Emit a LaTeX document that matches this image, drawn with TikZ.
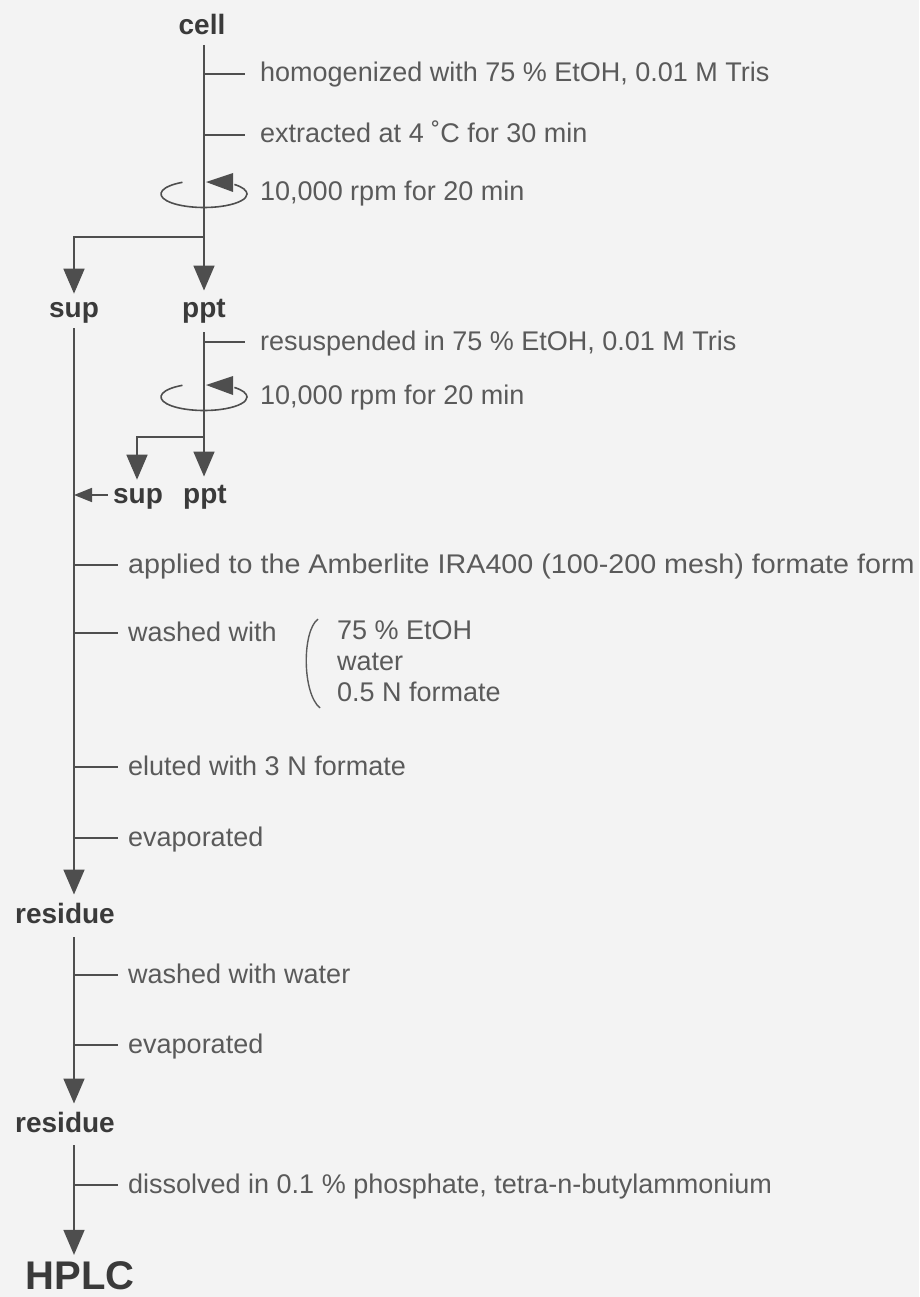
\documentclass[tikz,border=0pt]{standalone}
\usepackage{graphicx}
\usepackage{fontspec}
\setmainfont{Liberation Sans}
\usetikzlibrary{arrows.meta}
\definecolor{bg}{HTML}{F3F3F3}
\definecolor{ln}{HTML}{4E4E4E}
\definecolor{tx}{HTML}{5A5A5A}
\definecolor{bd}{HTML}{3A3A3A}
\begin{document}
\begin{tikzpicture}[x=1pt,y=1pt,
  line/.style={draw=ln, line width=1.6pt},
  arr/.style={line, -{Triangle[width=21pt,length=25pt]}},
  sarr/.style={line, -{Triangle[width=14pt,length=18pt]}},
  txt/.style={anchor=west, inner sep=0pt, text height=16pt, text depth=0pt, text=tx, font=\fontsize{27}{30}\selectfont},
  bold/.style={anchor=base, inner sep=0pt, text=bd, font=\fontsize{28}{32}\selectfont\bfseries},
  spin/.style={draw=ln, line width=1.6pt},
]
\fill[bg] (0,0) rectangle (919,-1297);
\useasboundingbox (0,0) rectangle (919,-1297);

% bold labels
\node[bold] (cell) at (202,-35) {cell};
\node[bold] (sup1) at (74,-317) {sup};
\node[bold] (ppt1) at (204,-317) {ppt};
\node[bold] (sup2) at (138,-503) {sup};
\node[bold] (ppt2) at (205,-503) {ppt};
\node[bold] (res1) at (65,-923) {residue};
\node[bold] (res2) at (65,-1132) {residue};
\node[bold, font=\fontsize{40}{44}\selectfont\bfseries] (hplc) at (80,-1289) {HPLC};

% step labels
\node[txt] (l1) at (260,-74) {homogenized with 75 \% EtOH, 0.01 M Tris};
\node[txt] (l2) at (260,-135) {extracted at 4 ˚C for 30 min};
\node[txt] (l3) at (260,-193) {10,000 rpm for 20 min};
\node[txt] (l4) at (260,-342) {resuspended in 75 \% EtOH, 0.01 M Tris};
\node[txt] (l5) at (260,-396) {10,000 rpm for 20 min};
\node[txt] (l6) at (128,-565) {\scalebox{1.063}[1]{applied to the Amberlite IRA400 (100-200 mesh) formate form}};
\node[txt] (l7) at (128,-633) {washed with};
\node[txt] (w1) at (337,-631) {75 \% EtOH};
\node[txt] (w2) at (337,-662) {water};
\node[txt] (w3) at (337,-693) {0.5 N formate};
\node[txt] (l8) at (128,-767) {eluted with 3 N formate};
\node[txt] (l9) at (128,-838) {evaporated};
\node[txt] (l10) at (128,-975) {washed with water};
\node[txt] (l11) at (128,-1045) {evaporated};
\node[txt] (l12) at (128,-1185) {dissolved in 0.1 \% phosphate, tetra-n-butylammonium};

% coordinates on the main lines
\coordinate (a0) at (204,-45);
\coordinate (t1) at (204,-74);
\coordinate (t2) at (204,-135);
\coordinate (b1) at (204,-237);
\coordinate (b1l) at (74,-237);
\coordinate (p0) at (204,-332);
\coordinate (t4) at (204,-342);
\coordinate (b2) at (204,-437);
\coordinate (b2l) at (137,-437);
\coordinate (s0) at (74,-328);
\coordinate (m2) at (74,-495);
\coordinate (t6) at (74,-565);
\coordinate (t7) at (74,-633);
\coordinate (t8) at (74,-767);
\coordinate (t9) at (74,-838);
\coordinate (r0) at (74,-937);
\coordinate (t10) at (74,-975);
\coordinate (t11) at (74,-1045);
\coordinate (q0) at (74,-1145);
\coordinate (t12) at (74,-1185);

% cell -> ppt, with branch to sup
\draw[arr] (a0) -- ([yshift=8pt]ppt1.north);
\draw[arr] (b1) -- (b1l) -- ([yshift=8pt]sup1.north -| b1l);
\draw[line] (t1) -- ([xshift=-15pt]l1.west);
\draw[line] (t2) -- ([xshift=-15pt]l2.west);

% ppt -> ppt, with branch to sup
\draw[arr] (p0) -- ([yshift=8pt]ppt2.north -| p0);
\draw[arr] (b2) -- (b2l) -- ([yshift=8pt]sup2.north -| b2l);
\draw[line] (t4) -- ([xshift=-15pt]l4.west);

% sup line -> residue
\draw[arr] (s0) -- ([yshift=8pt]res1.north -| s0);
\draw[sarr] ([xshift=-5pt]sup2.west |- m2) -- (m2);
\draw[line] (t6) -- ([xshift=-10pt]l6.west);
\draw[line] (t7) -- ([xshift=-10pt]l7.west);
\draw[line] (t8) -- ([xshift=-10pt]l8.west);
\draw[line] (t9) -- ([xshift=-10pt]l9.west);

% residue -> residue
\draw[arr] (r0) -- ([yshift=8pt]res2.north -| r0);
\draw[line] (t10) -- ([xshift=-10pt]l10.west);
\draw[line] (t11) -- ([xshift=-10pt]l11.west);

% residue -> HPLC
\draw[arr] (q0) -- ([yshift=6pt]hplc.north -| q0);
\draw[line] (t12) -- ([xshift=-10pt]l12.west);

% centrifuge symbols
\foreach \cy in {194,397}{
  \draw[spin] (204,-\cy) ++(120:43 and 13.5) arc[start angle=120, end angle=405, x radius=43, y radius=13.5];
  \fill[ln] (233,-\cy+2) -- (233,-\cy+21) -- (206,-\cy+12) -- cycle;
}

% bracket
\draw[draw=tx, line width=1.4pt] ([xshift=-19pt,yshift=12pt]w1.west) .. controls ([xshift=-35pt]w1.west) and ([xshift=-35pt]w3.west) .. ([xshift=-17pt,yshift=-15pt]w3.west);
\end{tikzpicture}
\end{document}
